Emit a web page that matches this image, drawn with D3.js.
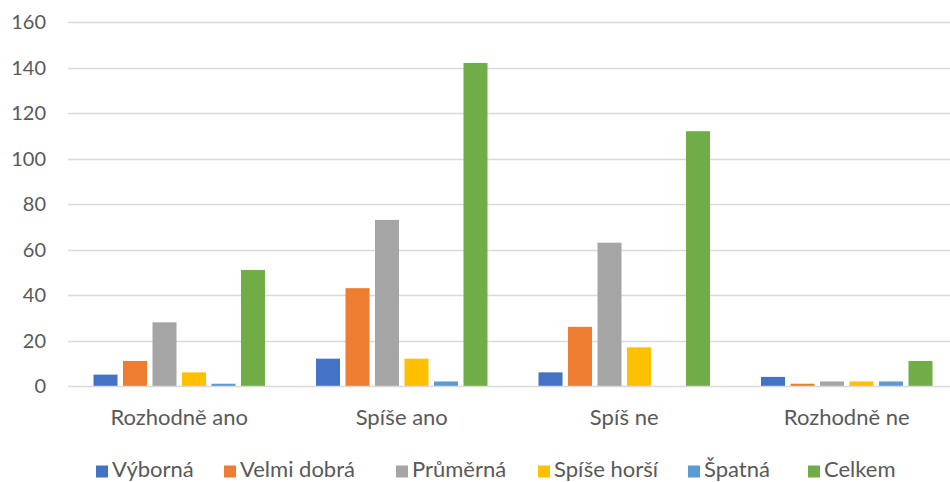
<!DOCTYPE html>
<html>
<head>
<meta charset="utf-8">
<script src="https://cdn.jsdelivr.net/npm/d3@7"></script>
<style>
  body { margin: 0; background: #fff; overflow: hidden; }
  text { font-family: Lato, "Open Sans", sans-serif; fill: #595959; }
</style>
</head>
<body>
<div id="chart"></div>
<script>
var categories = ["Rozhodně ano", "Spíše ano", "Spíš ne", "Rozhodně ne"];
var series = ["Výborná", "Velmi dobrá", "Průměrná", "Spíše horší", "Špatná", "Celkem"];
var vyborna    = [5, 12, 6, 4];
var velmiDobra = [11, 43, 26, 1];
var prumerna   = [28, 73, 63, 2];
var spiseHorsi = [6, 12, 17, 2];
var spatna     = [1, 2, 0, 2];
var celkem     = [51, 142, 112, 11];
var yTicks = [0, 20, 40, 60, 80, 100, 120, 140, 160];
var colors = ["#4472C4", "#ED7D31", "#A5A5A5", "#FFC000", "#5B9BD5", "#70AD47"];

function init(){
  var width = 950, height = 482;
  var values = [vyborna, velmiDobra, prumerna, spiseHorsi, spatna, celkem];

  var svg = d3.select("#chart")
    .append("svg")
    .attr("width", width)
    .attr("height", height);

  var left = 68, right = 958, top = 22, bottom = 386;

  // groups
  var x = d3.scaleBand()
    .domain(categories)
    .range([left, right])
    .padding(0);

  // bars inside a group
  var xs = d3.scaleBand()
    .domain(series)
    .range([25.5, x.bandwidth() - 25.5])
    .paddingInner(0.186);

  var y = d3.scaleLinear()
    .domain([0, 160])
    .range([bottom, top]);

  var color = d3.scaleOrdinal().domain(series).range(colors);

  // gridlines
  svg.append("g")
    .selectAll("line")
    .data(yTicks.slice(1))
    .enter()
    .append("line")
    .attr("x1", left)
    .attr("x2", width)
    .attr("y1", function(d){ return Math.round(y(d)) + 0.5; })
    .attr("y2", function(d){ return Math.round(y(d)) + 0.5; })
    .style("stroke", "#D9D9D9")
    .style("stroke-width", 1.3);

  // y labels
  svg.append("g")
    .selectAll("text")
    .data(yTicks)
    .enter()
    .append("text")
    .attr("x", 46)
    .attr("y", function(d){ return y(d); })
    .attr("dy", "0.35em")
    .attr("text-anchor", "end")
    .style("font-size", "20px")
    .text(function(d){ return d; });

  // bars
  var rows = [];
  categories.forEach(function(c, i){
    series.forEach(function(s, j){
      rows.push({cat: c, ser: s, val: values[j][i]});
    });
  });

  svg.append("g")
    .selectAll("rect")
    .data(rows)
    .enter()
    .append("rect")
    .attr("x", function(d){ return x(d.cat) + xs(d.ser); })
    .attr("y", function(d){ return y(d.val); })
    .attr("width", xs.bandwidth())
    .attr("height", function(d){ return bottom - y(d.val); })
    .style("fill", function(d){ return color(d.ser); });

  // baseline
  svg.append("line")
    .attr("x1", left).attr("x2", width)
    .attr("y1", bottom + 0.5).attr("y2", bottom + 0.5)
    .style("stroke", "#D9D9D9")
    .style("stroke-width", 1.5);

  // category labels
  svg.append("g")
    .selectAll("text")
    .data(categories)
    .enter()
    .append("text")
    .attr("x", function(d){ return x(d) + x.bandwidth() / 2; })
    .attr("y", 425)
    .attr("text-anchor", "middle")
    .style("font-size", "22px")
    .text(function(d){ return d; });

  // legend
  var legend = svg.append("g").attr("transform", "translate(0,477)");
  var lx = [96, 224, 396, 538, 688, 808];
  var item = legend.selectAll("g")
    .data(series)
    .enter()
    .append("g")
    .attr("transform", function(d, i){ return "translate(" + lx[i] + ",0)"; });
  item.append("rect")
    .attr("x", 0).attr("y", -11.5)
    .attr("width", 12).attr("height", 12)
    .style("fill", function(d){ return color(d); });
  item.append("text")
    .attr("x", 16)
    .attr("y", 0)
    .style("font-size", "22px")
    .text(function(d){ return d; });
}
window.onload = init;
</script>
</body>
</html>
